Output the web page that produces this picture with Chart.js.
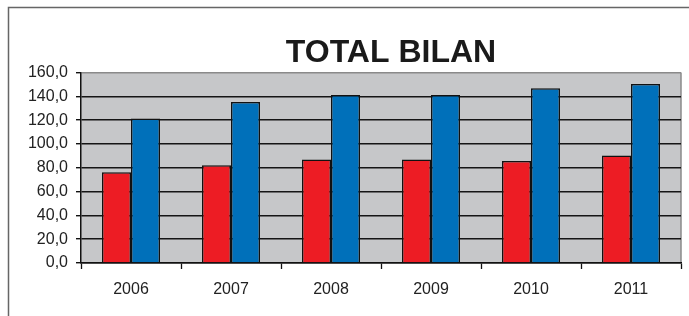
<!DOCTYPE html>
<html>
<head>
<meta charset="utf-8">
<script src="https://cdn.jsdelivr.net/npm/chart.js"></script>
<style>
  html, body { margin: 0; padding: 0; background: #fff; }
  #wrap { width: 689px; height: 316px; }
</style>
</head>
<body>
<div id="wrap"><canvas id="bilan-chart" width="689" height="316"></canvas></div>
<script>
// donnees
const annees = ["2006", "2007", "2008", "2009", "2010", "2011"];
const serieRouge = [76.2, 82.1, 86.9, 86.9, 85.7, 90.2];
const serieBleue = [121.3, 135.3, 141.2, 141.2, 146.8, 150.4];
const titre = "TOTAL BILAN";

// cadre, fond gris et titre
const decor = {
  id: "decor",
  beforeDraw(chart) {
    const ctx = chart.ctx;
    const a = chart.chartArea;
    ctx.save();
    ctx.strokeStyle = "#666";
    ctx.lineWidth = 1.5;
    ctx.beginPath();
    ctx.moveTo(8.5, 320);
    ctx.lineTo(8.5, 7.5);
    ctx.lineTo(700, 7.5);
    ctx.stroke();

    ctx.fillStyle = "#c6c7c9";
    ctx.fillRect(a.left, a.top, a.right - a.left, a.bottom - a.top);
    ctx.strokeStyle = "#8a8a8a";
    ctx.lineWidth = 1.5;
    ctx.beginPath();
    ctx.moveTo(a.right, a.bottom);
    ctx.lineTo(a.right, a.top);
    ctx.stroke();

    ctx.fillStyle = "#1a1a1a";
    ctx.font = "bold 32px 'Liberation Sans', Arial, sans-serif";
    ctx.textAlign = "center";
    ctx.textBaseline = "alphabetic";
    ctx.fillText(titre, 391, 62);
    ctx.restore();
  },
};

const contenedor = document.querySelector("#bilan-chart").getContext("2d");

const bilanChart = new Chart(contenedor, {
  type: "bar",
  data: {
    labels: annees,
    datasets: [
      {
        data: serieRouge,
        backgroundColor: "#ed1c24",
        borderColor: "#111",
        borderWidth: 1.5,
      },
      {
        data: serieBleue,
        backgroundColor: "#0070ba",
        borderColor: "#111",
        borderWidth: 1.5,
      },
    ],
  },
  options: {
    responsive: false,
    animation: false,
    layout: { padding: { left: 0, right: 8, top: 72.5, bottom: 0 } },
    plugins: {
      legend: { display: false },
      tooltip: { enabled: false },
      title: { display: false },
    },
    datasets: {
      bar: { categoryPercentage: 0.58, barPercentage: 1 },
    },
    scales: {
      x: {
        offset: true,
        afterFit(scale) { scale.height = 53; },
        grid: {
          offset: true,
          drawOnChartArea: false,
          tickLength: 6,
          tickColor: "#111",
          tickWidth: 1.3,
        },
        border: { display: true, color: "#111", width: 1.5 },
        ticks: {
          color: "#222",
          padding: 11,
          font: { family: "'Liberation Sans', Arial, sans-serif", size: 16 },
        },
      },
      y: {
        min: 0,
        max: 160,
        afterFit(scale) { scale.width = 81; },
        grid: {
          color: (c) => (c.tick && c.tick.value === 160 ? "#8a8a8a" : "#151515"),
          lineWidth: 1.4,
          tickLength: 5,
          tickColor: "#111",
        },
        border: { display: true, color: "#111", width: 1.5 },
        ticks: {
          stepSize: 20,
          color: "#222",
          padding: 8,
          font: { family: "'Liberation Sans', Arial, sans-serif", size: 16 },
          callback: (v) => v.toFixed(1).replace(".", ","),
        },
      },
    },
  },
  plugins: [decor],
});
</script>
</body>
</html>
